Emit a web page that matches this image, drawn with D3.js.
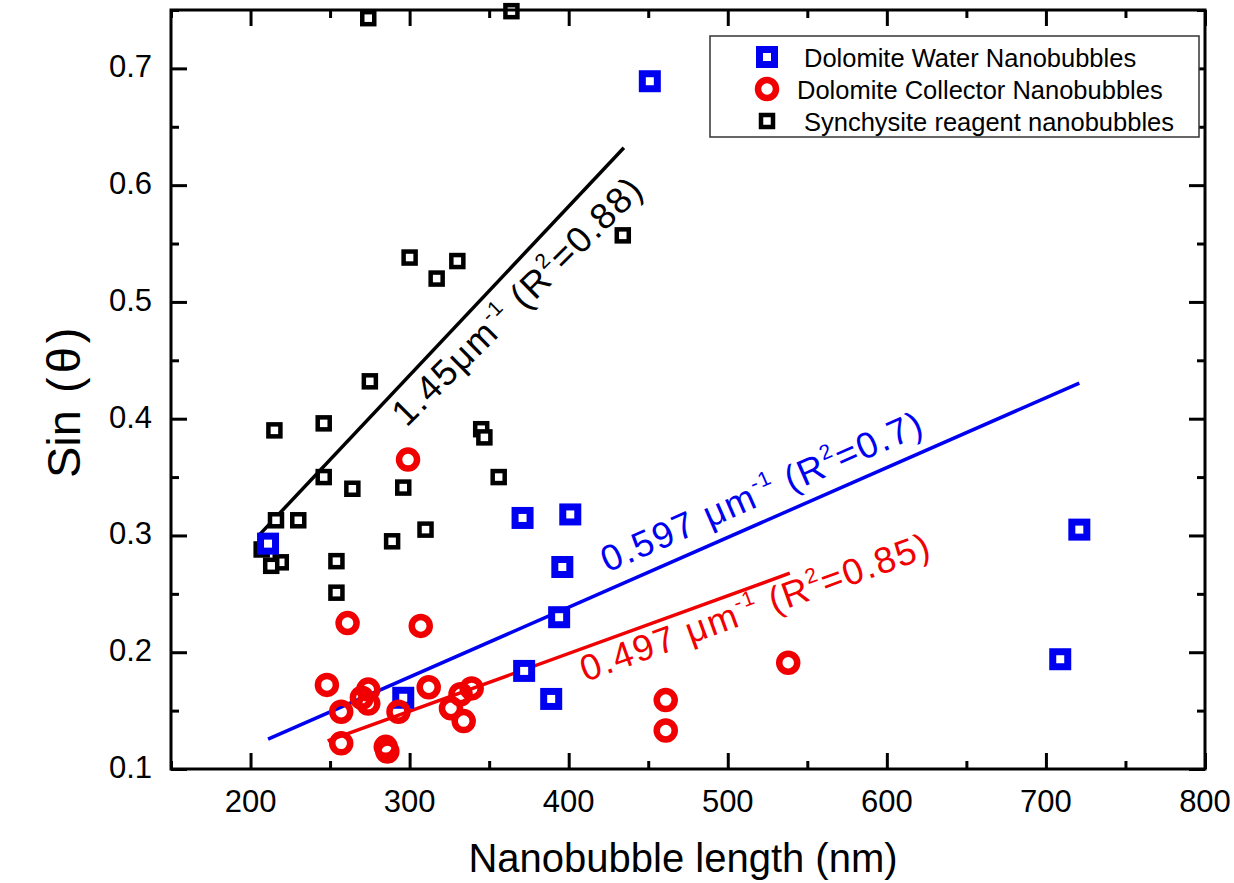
<!DOCTYPE html>
<html>
<head>
<meta charset="utf-8">
<script src="https://cdn.jsdelivr.net/npm/d3@7"></script>
<style>
  body { margin: 0; background: #fff; }
  svg { display: block; font-family: "Liberation Sans", Arial, sans-serif; }
</style>
</head>
<body>
<svg id="chart" width="1234" height="883"></svg>
<script>
// Dolomite water nanobubbles
var waterX = [211, 296, 371, 372, 389, 394, 396, 401, 451, 709, 721];
var waterY = [0.293, 0.161, 0.315, 0.184, 0.160, 0.230, 0.273, 0.318, 0.689, 0.194, 0.305];

// Dolomite collector nanobubbles
var collectorX = [299, 261, 307, 248, 274, 312, 339, 270, 332, 257, 274, 293, 326, 334, 257, 285, 286, 461, 461, 538];
var collectorY = [0.365, 0.225, 0.2225, 0.172, 0.168, 0.170, 0.169, 0.161, 0.164, 0.149, 0.156, 0.149, 0.152, 0.141, 0.122, 0.119, 0.115, 0.159, 0.133, 0.191];

// Synchysite reagent nanobubbles
var synX = [274, 364, 300, 317, 330, 434, 275, 215, 246, 345, 347, 246, 264, 296, 356, 216, 230, 310, 289, 207, 219, 213, 254, 254];
var synY = [0.743, 0.749, 0.538, 0.520, 0.535, 0.557, 0.432, 0.390, 0.396, 0.391, 0.384, 0.350, 0.340, 0.341, 0.350, 0.313, 0.313, 0.305, 0.295, 0.288, 0.277, 0.274, 0.278, 0.251];

// linear fits (end points)
var waterFitX = [211, 721];
var waterFitY = [0.1255, 0.4305];
var collectorFitX = [248.5, 539];
var collectorFitY = [0.124, 0.2677];
var synFitX = [205.5, 434.7];
var synFitY = [0.3005, 0.632];

var seriesNames = ['Dolomite Water Nanobubbles', 'Dolomite Collector Nanobubbles', 'Synchysite reagent nanobubbles'];

var xTicks = [200, 300, 400, 500, 600, 700, 800];
var xMinorTicks = [150, 250, 350, 450, 550, 650, 750];
var yTicks = [0.1, 0.2, 0.3, 0.4, 0.5, 0.6, 0.7];
var yMinorTicks = [0.15, 0.25, 0.35, 0.45, 0.55, 0.65, 0.75];

var xTitle = 'Nanobubble length (nm)';

var blue = '#0000f0';
var red = '#f00000';
var black = '#000';

var svg = d3.select('#chart');

var pLeft = 171, pRight = 1205, pTop = 10, pBottom = 769;

var x = d3.scaleLinear().domain([150, 800]).range([pLeft, pRight]);
var y = d3.scaleLinear().domain([0.1, 0.75]).range([pBottom, pTop]);

function zip(xs, ys) {
  return xs.map(function(v, i) { return { x: v, y: ys[i] }; });
}

var plot = svg.append('g');

// fit lines
function fitLine(xs, ys, color) {
  plot.append('line')
    .attr('x1', x(xs[0])).attr('y1', y(ys[0]))
    .attr('x2', x(xs[1])).attr('y2', y(ys[1]))
    .attr('stroke', color)
    .attr('stroke-width', 3.5);
}
fitLine(synFitX, synFitY, black);
fitLine(waterFitX, waterFitY, blue);
fitLine(collectorFitX, collectorFitY, red);

// markers
function squares(data, color, side, sw) {
  plot.append('g').selectAll('rect')
    .data(data)
    .join('rect')
    .attr('x', function(d) { return x(d.x) - side / 2; })
    .attr('y', function(d) { return y(d.y) - side / 2; })
    .attr('width', side)
    .attr('height', side)
    .attr('fill', 'white')
    .attr('stroke', color)
    .attr('stroke-width', sw);
}
function circles(data, color, r, sw) {
  plot.append('g').selectAll('circle')
    .data(data)
    .join('circle')
    .attr('cx', function(d) { return x(d.x); })
    .attr('cy', function(d) { return y(d.y); })
    .attr('r', r)
    .attr('fill', 'none')
    .attr('stroke', color)
    .attr('stroke-width', sw);
}
squares(zip(synX, synY), black, 12, 4.5);
squares(zip(waterX, waterY), blue, 15, 7);
circles(zip(collectorX, collectorY), red, 9, 6.5);

// fit annotations, rotated along each line (tilt = small extra turn)
function fitLabel(xs, ys, px, py, tilt, parts, color) {
  var ang = Math.atan2(y(ys[1]) - y(ys[0]), x(xs[1]) - x(xs[0])) * 180 / Math.PI + tilt;
  var t = plot.append('text')
    .attr('transform', 'translate(' + x(px) + ',' + y(py) + ') rotate(' + ang + ')')
    .attr('font-size', 36.5)
    .attr('letter-spacing', 1.7)
    .attr('fill', color);
  var back = 0;
  parts.forEach(function(p) {
    if (p.sup) {
      t.append('tspan').attr('font-size', 21).attr('dy', -16 + back).text(p.t);
      back = 16;
    } else {
      t.append('tspan').attr('dy', back).text(p.t);
      back = 0;
    }
  });
}
fitLabel(synFitX, synFitY, 298, 0.392, 2,
  [{t: '1.45\u03BCm'}, {t: '-1', sup: true}, {t: ' (R'}, {t: '2', sup: true}, {t: '=0.88)'}], black);
fitLabel(waterFitX, waterFitY, 424.4, 0.268, 0,
  [{t: '0.597 \u03BCm'}, {t: '-1', sup: true}, {t: '  (R'}, {t: '2', sup: true}, {t: '=0.7)'}], blue);
fitLabel(collectorFitX, collectorFitY, 410.6, 0.1745, 0,
  [{t: '0.497 \u03BCm'}, {t: '-1', sup: true}, {t: '  (R'}, {t: '2', sup: true}, {t: '=0.85)'}], red);

// axes: ticks pointing inward on all four sides
var axes = svg.append('g');
function styleAxis(g) {
  g.select('.domain').remove();
  g.selectAll('.tick line').attr('stroke', black).attr('stroke-width', 3);
}
axes.append('g').attr('transform', 'translate(0,' + pBottom + ')')
  .call(d3.axisBottom(x).tickValues(xTicks).tickSize(-16).tickFormat(''))
  .call(styleAxis);
axes.append('g').attr('transform', 'translate(0,' + pBottom + ')')
  .call(d3.axisBottom(x).tickValues(xMinorTicks).tickSize(-8).tickFormat(''))
  .call(styleAxis);
axes.append('g').attr('transform', 'translate(0,' + pTop + ')')
  .call(d3.axisTop(x).tickValues(xTicks).tickSize(-16).tickFormat(''))
  .call(styleAxis);
axes.append('g').attr('transform', 'translate(0,' + pTop + ')')
  .call(d3.axisTop(x).tickValues(xMinorTicks).tickSize(-8).tickFormat(''))
  .call(styleAxis);
axes.append('g').attr('transform', 'translate(' + pLeft + ',0)')
  .call(d3.axisLeft(y).tickValues(yTicks).tickSize(-16).tickFormat(''))
  .call(styleAxis);
axes.append('g').attr('transform', 'translate(' + pLeft + ',0)')
  .call(d3.axisLeft(y).tickValues(yMinorTicks).tickSize(-8).tickFormat(''))
  .call(styleAxis);
axes.append('g').attr('transform', 'translate(' + pRight + ',0)')
  .call(d3.axisRight(y).tickValues(yTicks).tickSize(-16).tickFormat(''))
  .call(styleAxis);
axes.append('g').attr('transform', 'translate(' + pRight + ',0)')
  .call(d3.axisRight(y).tickValues(yMinorTicks).tickSize(-8).tickFormat(''))
  .call(styleAxis);

axes.append('rect')
  .attr('x', pLeft).attr('y', pTop)
  .attr('width', pRight - pLeft).attr('height', pBottom - pTop)
  .attr('fill', 'none')
  .attr('stroke', black)
  .attr('stroke-width', 3);

// tick labels
axes.append('g').selectAll('text')
  .data(xTicks)
  .join('text')
  .attr('x', function(d) { return x(d); })
  .attr('y', pBottom + 43)
  .attr('text-anchor', 'middle')
  .attr('font-size', 31)
  .text(function(d) { return d; });
axes.append('g').selectAll('text')
  .data(yTicks)
  .join('text')
  .attr('x', pLeft - 19)
  .attr('y', function(d) { return y(d) + 9; })
  .attr('text-anchor', 'end')
  .attr('font-size', 31)
  .text(function(d) { return d3.format('.1f')(d); });

// axis titles
svg.append('text')
  .attr('x', (pLeft + pRight) / 2 - 5)
  .attr('y', 872)
  .attr('text-anchor', 'middle')
  .attr('font-size', 40)
  .text(xTitle);
var yt = svg.append('text')
  .attr('transform', 'translate(80,478) rotate(-90)')
  .attr('font-size', 47);
yt.append('tspan').text('Sin ');
yt.append('tspan').attr('dx', 4).text('(');
yt.append('tspan').attr('dx', 4).text('\u03B8');
yt.append('tspan').attr('dx', 4).text(')');

// legend
var legend = svg.append('g');
legend.append('rect')
  .attr('x', 710).attr('y', 36)
  .attr('width', 489).attr('height', 101)
  .attr('fill', 'white')
  .attr('stroke', '#333')
  .attr('stroke-width', 1.5);
var legendRows = [
  { name: seriesNames[0], kind: 'sq', color: blue, side: 15, sw: 7, tx: 804 },
  { name: seriesNames[1], kind: 'ci', color: red, side: 9, sw: 6.5, tx: 797 },
  { name: seriesNames[2], kind: 'sq', color: black, side: 12, sw: 4.5, tx: 804 }
];
legendRows.forEach(function(r, i) {
  var cy = 57 + i * 32;
  if (r.kind === 'sq') {
    legend.append('rect')
      .attr('x', 767 - r.side / 2).attr('y', cy - r.side / 2)
      .attr('width', r.side).attr('height', r.side)
      .attr('fill', 'white').attr('stroke', r.color).attr('stroke-width', r.sw);
  } else {
    legend.append('circle')
      .attr('cx', 767).attr('cy', cy).attr('r', r.side)
      .attr('fill', 'none').attr('stroke', r.color).attr('stroke-width', r.sw);
  }
  legend.append('text')
    .attr('x', r.tx)
    .attr('y', cy + 9.5)
    .attr('font-size', 25.5)
    .text(r.name);
});
</script>
</body>
</html>
